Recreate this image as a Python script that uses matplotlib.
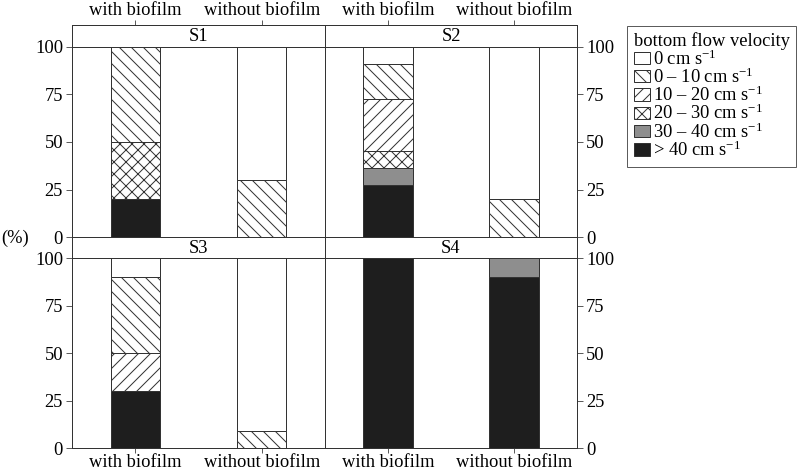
import matplotlib
matplotlib.use('Agg')
import matplotlib.pyplot as plt
from matplotlib.patches import Patch

plt.rcParams['font.family'] = ['Liberation Serif', 'DejaVu Serif']
plt.rcParams['mathtext.fontset'] = 'custom'
plt.rcParams['mathtext.rm'] = 'Liberation Serif'
plt.rcParams['mathtext.it'] = 'Liberation Serif:italic'
plt.rcParams['hatch.linewidth'] = 1.0

# ---- data ----
conditions = ['with biofilm', 'without biofilm']
sites = ['S1', 'S2', 'S3', 'S4']
classes = ['0', '0 – 10', '10 – 20', '20 – 30', '30 – 40', '> 40']
# values (%) per class, order as in `classes`
s1_with = [0, 50, 0, 30, 0, 20]
s1_without = [70, 30, 0, 0, 0, 0]
s2_with = [9.1, 18.2, 27.3, 9.1, 9.1, 27.3]
s2_without = [80, 20, 0, 0, 0, 0]
s3_with = [10, 40, 20, 0, 0, 30]
s3_without = [91, 9, 0, 0, 0, 0]
s4_with = [0, 0, 0, 0, 0, 100]
s4_without = [0, 0, 0, 0, 10, 90]
yticks = [0, 25, 50, 75, 100]

site_data = {
    'S1': (s1_with, s1_without),
    'S2': (s2_with, s2_without),
    'S3': (s3_with, s3_without),
    'S4': (s4_with, s4_without),
}

# ---- styles ----
EDGE = '#333333'
styles = [
    dict(facecolor='white', hatch=None),
    dict(facecolor='white', hatch='\\\\'),
    dict(facecolor='white', hatch='//'),
    dict(facecolor='white', hatch='xx'),
    dict(facecolor='#8e8e8e', hatch=None),
    dict(facecolor='#1e1e1e', hatch=None),
]
FS = 18.5

DPI = 72
W, H = 798, 474
fig = plt.figure(figsize=(W / DPI, H / DPI), dpi=DPI)


def rect(x0, y0, x1, y1):
    return [x0 / W, 1 - y1 / H, (x1 - x0) / W, (y1 - y0) / H]


cols = [(72, 325), (325, 577)]
rows = [(25, 46.7, 237.3), (237.3, 258.3, 448.3)]
xpos = [1, 2]
barw = 0.39

for i, site in enumerate(sites):
    r, c = divmod(i, 2)
    x0, x1 = cols[c]
    st, sb, pb = rows[r]
    # strip
    sax = fig.add_axes(rect(x0, st, x1, sb))
    sax.set_xlim(0.5, 2.5)
    sax.set_ylim(0, 1)
    sax.set_yticks([])
    sax.text(0.5, 0.45, site, transform=sax.transAxes, ha='center', va='center', fontsize=FS)
    for s in sax.spines.values():
        s.set_color(EDGE)
        s.set_linewidth(1)
    if r == 0:
        sax.xaxis.set_ticks_position('top')
        sax.set_xticks(xpos)
        sax.set_xticklabels(conditions, fontsize=FS)
        sax.tick_params(axis='x', direction='out', length=5, pad=1, color=EDGE)
    else:
        sax.set_xticks([])
    # panel
    ax = fig.add_axes(rect(x0, sb, x1, pb))
    ax.set_xlim(0.5, 2.5)
    ax.set_ylim(0, 100)
    for j, vals in enumerate(site_data[site]):
        bottom = 0
        for k in range(len(classes) - 1, -1, -1):
            v = vals[k]
            if v <= 0:
                continue
            ax.bar(xpos[j], v, bottom=bottom, width=barw, color=styles[k]['facecolor'],
                   hatch=styles[k]['hatch'], edgecolor=EDGE, linewidth=1)
            bottom += v
    ax.set_yticks(yticks)
    ax.set_yticklabels([str(t) for t in yticks], fontsize=FS)
    if c == 0:
        ax.yaxis.set_ticks_position('left')
    else:
        ax.yaxis.set_ticks_position('right')
    ax.tick_params(axis='y', direction='out', length=6, pad=3, color=EDGE)
    if r == 1:
        ax.set_xticks(xpos)
        ax.set_xticklabels(conditions, fontsize=FS)
        ax.tick_params(axis='x', direction='out', length=5, pad=1, color=EDGE)
    else:
        ax.set_xticks([])
    for s in ax.spines.values():
        s.set_color(EDGE)
        s.set_linewidth(1)

fig.text(1 / W, 1 - 238 / H, '(%)', fontsize=FS, ha='left', va='center')

handles = [Patch(facecolor=s['facecolor'], hatch=s['hatch'], edgecolor=EDGE, linewidth=1) for s in styles]
labels = [cl + r' cm s$^{-1}$' for cl in classes]
leg = fig.legend(handles, labels, loc='upper left', bbox_to_anchor=(627 / W, 1 - 25.7 / H),
                 title='bottom flow velocity', title_fontsize=FS, fontsize=FS,
                 frameon=True, fancybox=False, edgecolor=EDGE, handlelength=0.9,
                 handleheight=0.65, handletextpad=0.15, labelspacing=-0.06, borderpad=0.36,
                 borderaxespad=0, alignment='left')
leg.get_frame().set_linewidth(1)

fig.savefig('out.png', dpi=DPI)
